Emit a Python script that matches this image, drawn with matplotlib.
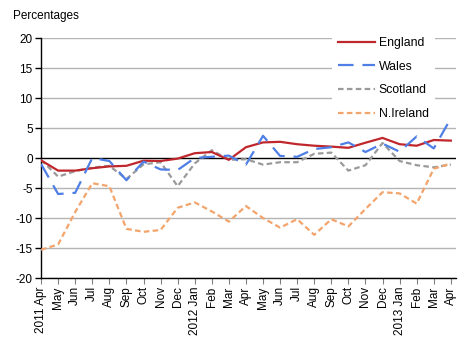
import matplotlib
matplotlib.use("Agg")
import matplotlib.pyplot as plt

plt.rcParams['font.family'] = ['Liberation Sans', 'DejaVu Sans']

# monthly labels, April 2011 to April 2013
months = ['2011 Apr', 'May', 'Jun', 'Jul', 'Aug', 'Sep', 'Oct', 'Nov', 'Dec',
          '2012 Jan', 'Feb', 'Mar', 'Apr', 'May', 'Jun', 'Jul', 'Aug', 'Sep',
          'Oct', 'Nov', 'Dec', '2013 Jan', 'Feb', 'Mar', 'Apr']

england = [-0.4, -2.1, -2.1, -1.7, -1.4, -1.3, -0.45, -0.5, -0.1, 0.8, 1.0,
           -0.3, 1.8, 2.6, 2.7, 2.3, 2.05, 1.9, 1.7, 2.55, 3.35, 2.3, 2.05,
           3.0, 2.9]
wales = [-1.0, -6.0, -5.8, 0.0, -0.5, -3.7, -0.6, -1.9, -2.0, 0.0, 0.2, 0.4,
         -1.1, 3.7, 0.35, 0.2, 1.5, 1.8, 2.6, 1.0, 2.4, 1.05, 3.6, 1.6, 6.6]
scotland = [-0.3, -3.1, -2.2, -1.6, -1.3, -3.5, -1.05, -0.7, -4.7, -0.9, 1.3,
            -0.3, -0.2, -1.1, -0.7, -0.7, 0.7, 0.9, -2.1, -1.2, 2.5, -0.5,
            -1.2, -1.55, -1.1]
nireland = [-15.3, -14.4, -9.0, -4.2, -4.7, -11.8, -12.3, -12.0, -8.3, -7.4,
            -8.9, -10.6, -8.0, -10.0, -11.6, -10.2, -12.8, -10.2, -11.4, -8.5,
            -5.7, -5.9, -7.6, -1.8, -0.9]

yticks = [-20, -15, -10, -5, 0, 5, 10, 15, 20]

fig = plt.figure(figsize=(4.72, 3.38), dpi=100)
ax = fig.add_axes([0.087, 0.1775, 0.879, 0.710])

x = list(range(len(months)))
for v in yticks:
    if v != 0:
        ax.axhline(v, color='#b4b4b4', lw=1.0, zorder=1)
ax.axhline(0, color='black', lw=1.0, zorder=2)

ax.plot(x, england, color='#c0272d', lw=1.6, label='England', zorder=4)
ax.plot(x, wales, color='#4f7fe6', lw=1.6, dashes=(7, 4), label='Wales', zorder=5)
ax.plot(x, scotland, color='#9a9a9a', lw=1.6, dashes=(2.5, 1.5), label='Scotland', zorder=3)
ax.plot(x, nireland, color='#f3a46c', lw=1.6, dashes=(2.5, 1.5), label='N.Ireland', zorder=3)

ax.set_xlim(0, 24.3)
ax.set_ylim(-20, 20)
ax.set_yticks(yticks)
ax.set_yticklabels([str(v) for v in yticks], fontsize=8.5)
ax.set_xticks(x)
ax.set_xticklabels(months, rotation=90, fontsize=8.5)

for side in ['top', 'right']:
    ax.spines[side].set_visible(False)
ax.spines['left'].set_linewidth(1.0)
ax.spines['bottom'].set_linewidth(1.0)
ax.tick_params(axis='y', length=4, width=1.0, pad=2)
ax.tick_params(axis='x', length=4, width=0.8, color='#808080', pad=2)

leg = ax.legend(loc='upper right', bbox_to_anchor=(0.955, 1.04), frameon=True,
                fontsize=8.8, handlelength=3.0, handletextpad=0.3,
                labelspacing=0.95, borderpad=0.5, borderaxespad=0.2)
leg.get_frame().set_facecolor('white')
leg.get_frame().set_edgecolor('none')
leg.get_frame().set_alpha(1.0)
leg.set_zorder(10)

fig.text(0.027, 0.945, 'Percentages', fontsize=8.5, ha='left', va='baseline')

fig.savefig('out.png', dpi=100)
